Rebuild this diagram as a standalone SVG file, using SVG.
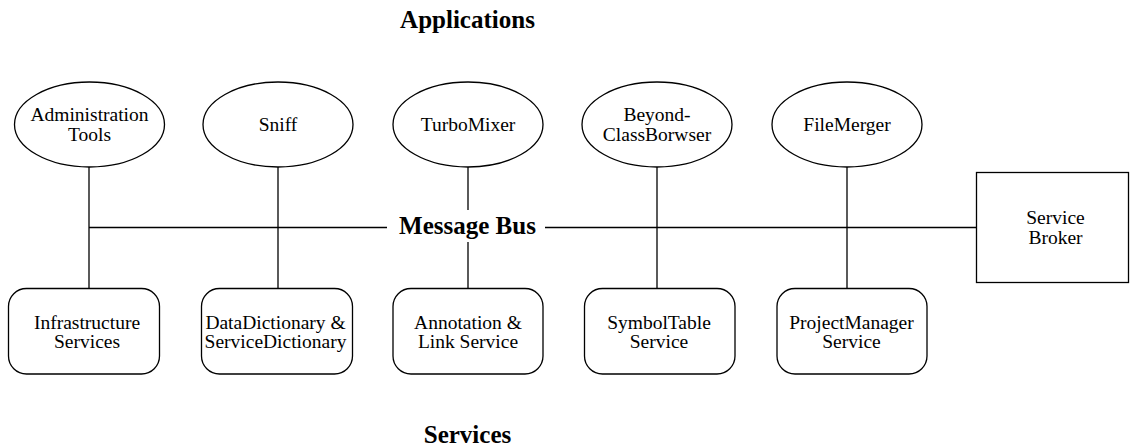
<svg xmlns="http://www.w3.org/2000/svg" width="1131" height="448" viewBox="0 0 1131 448">
<style>
.shape{fill:#fff;stroke:#000;stroke-width:1.3}
.conn{stroke:#000;stroke-width:1.3;fill:none}
.lbl{font-family:"Liberation Serif","Times New Roman",serif;font-size:19.5px;text-anchor:middle;fill:#000}
.title{font-family:"Liberation Serif","Times New Roman",serif;font-size:25px;font-weight:bold;text-anchor:middle;fill:#000}
</style>
<rect width="1131" height="448" fill="#fff"/>
<g id="connectors">
<line class="conn" x1="89" y1="167" x2="89" y2="288"/>
<line class="conn" x1="278" y1="167" x2="278" y2="288"/>
<line class="conn" x1="468" y1="167" x2="468" y2="210"/>
<line class="conn" x1="468" y1="242" x2="468" y2="288"/>
<line class="conn" x1="657" y1="167" x2="657" y2="288"/>
<line class="conn" x1="847" y1="167" x2="847" y2="288"/>
<line class="conn" x1="89" y1="227.5" x2="387" y2="227.5"/>
<line class="conn" x1="545" y1="227.5" x2="977" y2="227.5"/>
</g>
<text class="title" x="467.5" y="28">Applications</text>
<text class="title" x="467.5" y="234">Message Bus</text>
<text class="title" x="467.5" y="443">Services</text>
<g id="admin"><ellipse class="shape" cx="89.5" cy="124.5" rx="75" ry="42.5"/><text class="lbl" x="89.5" y="121">Administration</text><text class="lbl" x="89.5" y="141">Tools</text></g>
<g id="sniff"><ellipse class="shape" cx="278" cy="124.5" rx="75" ry="42.5"/><text class="lbl" x="278" y="131">Sniff</text></g>
<g id="turbomixer"><ellipse class="shape" cx="468" cy="124.5" rx="75" ry="42.5"/><text class="lbl" x="468" y="131">TurboMixer</text></g>
<g id="beyond"><ellipse class="shape" cx="657" cy="124.5" rx="75" ry="42.5"/><text class="lbl" x="657" y="121">Beyond-</text><text class="lbl" x="657" y="141">ClassBorwser</text></g>
<g id="filemerger"><ellipse class="shape" cx="847" cy="124.5" rx="75" ry="42.5"/><text class="lbl" x="847" y="131">FileMerger</text></g>
<g id="broker"><rect class="shape" x="976.5" y="172.5" width="152" height="110"/><text class="lbl" x="1055.5" y="224">Service</text><text class="lbl" x="1055.5" y="244">Broker</text></g>
<g id="infra"><rect class="shape" x="8.5" y="288.5" width="151" height="85.5" rx="18"/><text class="lbl" x="87" y="328.5">Infrastructure</text><text class="lbl" x="87" y="348">Services</text></g>
<g id="datadict"><rect class="shape" x="201.5" y="288.5" width="151" height="85.5" rx="18"/><text class="lbl" x="275.5" y="328.5">DataDictionary &amp;</text><text class="lbl" x="275.5" y="348">ServiceDictionary</text></g>
<g id="annotation"><rect class="shape" x="393" y="288.5" width="150" height="85.5" rx="18"/><text class="lbl" x="468" y="328.5">Annotation &amp;</text><text class="lbl" x="468" y="348">Link Service</text></g>
<g id="symboltable"><rect class="shape" x="584.5" y="288.5" width="150.5" height="85.5" rx="18"/><text class="lbl" x="659" y="328.5">SymbolTable</text><text class="lbl" x="659" y="348">Service</text></g>
<g id="projectmanager"><rect class="shape" x="777" y="288.5" width="150" height="85.5" rx="18"/><text class="lbl" x="851.5" y="328.5">ProjectManager</text><text class="lbl" x="851.5" y="348">Service</text></g>
</svg>
